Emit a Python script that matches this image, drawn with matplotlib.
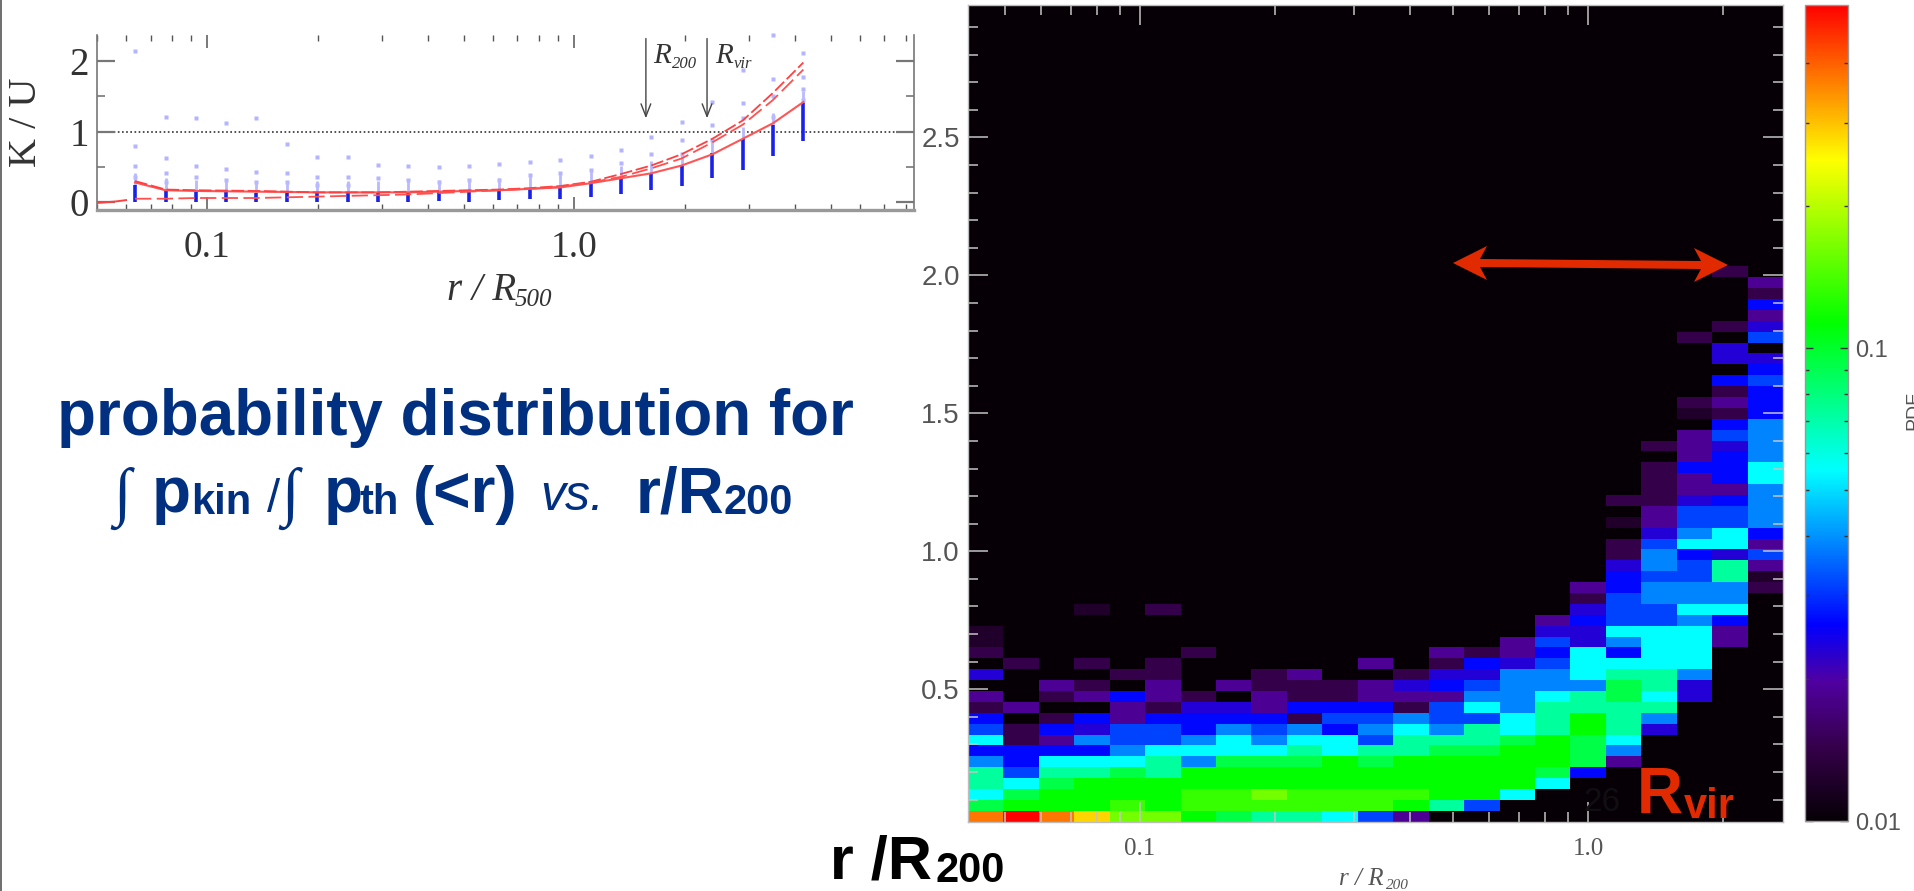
import numpy as np
import matplotlib
matplotlib.use("Agg")
import matplotlib.pyplot as plt
from matplotlib.colors import LinearSegmentedColormap, LogNorm
from matplotlib.patches import Polygon
from matplotlib.lines import Line2D
from matplotlib.ticker import NullFormatter

W, H = 1915, 891

# ---------- left panel data (K/U against r/R500) ----------
RADII = [.0635, .0769, .0931, .1125, .136, .165, .1995, .241, .292, .353, .427, .517,
         .625, .757, .916, 1.109, 1.34, 1.62, 1.96, 2.38, 2.88, 3.48, 4.21]
DENSE_LO = [0, 0, 0, 0, 0, 0, 0, 0, 0, 0, .02, .01, .03, .04, .04, .08, .12, .17, .23, .35, .46, .66, .87]
DENSE_HI = [.25, .18, .15, .15, .13, .13, .13, .13, .13, .13, .14, .16, .17, .2, .23, .27, .34, .42, .52, .7, .9, 1.1, 1.4]
OUTLIERS = [[2.15, .8, .52, .36], [1.21, .63, .41, .29], [1.19, .52, .36], [1.12, .47, .32],
            [1.2, .43, .29], [.83, .41, .29], [.64, .36, .25], [.64, .36, .25], [.53, .34],
            [.52, .32], [.5, .29], [.52, .32], [.54, .32], [.57, .39], [.6, .41], [.65, .46],
            [.74, .55], [.93, .69], [1.14, .88, .69], [1.42, 1.09, .88], [1.87, 1.4, 1.19],
            [2.37, 1.75, 1.5, 1.21], [2.11, 1.78, 1.61, 1.45]]
RED_SOLID = [.28, .17, .16, .155, .15, .145, .14, .14, .14, .14, .15, .16, .17, .19, .21, .27, .34, .41, .52, .68, .9, 1.12, 1.42]
RED_DASH_A = [.3, .18, .17, .165, .16, .15, .14, .14, .14, .15, .16, .17, .18, .2, .23, .29, .4, .52, .68, .9, 1.16, 1.55, 1.98]
RED_DASH_B = [.05, .05, .06, .06, .06, .07, .08, .09, .1, .11, .13, .15, .17, .19, .22, .28, .36, .48, .62, .85, 1.1, 1.45, 1.88]
LEAD_R = [.05, .056, .06]
LEAD_Y = [-.01, .01, .03]
ARROW_R = [1.567, 2.30]

# ---------- right panel data (PDF cells, row 0 at the bottom, right-aligned strings) ----------
LEVELS = {'0': .0100, 'g': .0122, '1': .0143, '2': .0189, '3': .023, '4': .0265, '5': .0317,
          '6': .0386, '7': .0553, '8': .073, '9': .0927, 'a': .113, 'b': .133, 'c': .162,
          'd': .282, 'e': .373, 'f': .533}
CELL_ROWS = [
    "efedcca9887520000000000",
    "9aaababbbbbba8500000000",
    "79aaaabbcbbbbaa70000000",
    "879aaaaaaaaaaaaa7000000",
    "858898aaaaaaaaaa9400000",
    "6477786999a9aaaaa920000",
    "444467777878899aa960000",
    "7126556767758889a970000",
    "51435546564676878a83000",
    "40142444415565578a86000",
    "12002133244415768888000",
    "20124210211222667897300",
    "00210202111234566698300",
    "30001100120013366788600",
    "01010100000201435777700",
    "10000010000002124747700",
    "g0000000000000025367720",
    "g000000000000000" "3377720",
    "2455640", "000g01" "00000000000" "355770", "156660", "246661",
    "4558g", "36582", "16435", "15772", "03674", "g2556", "02556", "11346",
    "01226", "01247", "01447", "00246", "1236", "256", "46", "g14", "124",
    "14", "45", "04", "33", "30", "105", "13", "02", "04", "01", "02", "10",
]
N_COLS, N_ROWS = 23, 75

CB_STOPS = [(0, '#060006'), (.09, '#35004a'), (.17, '#5000a0'), (.24, '#0000ff'), (.43, '#00ffff'),
            (.61, '#00ff00'), (.81, '#ffff00'), (1, '#ff0000')]
NAVY, RED = '#00307f', '#e22a00'
SANS, SERIF = 'Liberation Sans', 'Liberation Serif'


def rect(l, t, r, b):
    return [l / W, 1 - b / H, (r - l) / W, (b - t) / H]


def ftext(x, y, s, **kw):
    return fig.text(x / W, 1 - y / H, s, **kw)


fig = plt.figure(figsize=(W / 100, H / 100), dpi=100, facecolor='white')

# ---------- left panel ----------
ax = fig.add_axes(rect(97, 35, 914, 210))
ax.set_xscale('log')
ax.set_xlim(.05, 8.43)
ax.set_ylim(-.11, 2.37)
ax.axhline(1, color='#333333', ls=(0, (1, 1.5)), lw=1.2, zorder=1)
for r, ys in zip(RADII, OUTLIERS):
    ax.plot([r] * len(ys), ys, ls='none', marker='s', ms=2.4, mfc='#b4b4ff', mec='none', zorder=2, clip_on=False)
ax.vlines(RADII, DENSE_LO, DENSE_HI, color='#1a22e8', lw=2.6, zorder=3)
for r, lo, hi in zip(RADII, DENSE_HI, [h + .17 for h in DENSE_HI]):
    ax.vlines(r, lo, hi, color='#b9b9ff', lw=2.0, zorder=2)
ax.plot(RADII, RED_SOLID, color='#ff5555', lw=1.5, zorder=4)
ax.plot(RADII, RED_DASH_A, color='#ff4040', lw=1.3, ls=(0, (7, 2)), zorder=4)
ax.plot(RADII, RED_DASH_B, color='#ff5050', lw=1.3, ls=(0, (9, 3)), zorder=4)
ax.plot(LEAD_R, LEAD_Y, color='#ff4040', lw=1.4, zorder=4)
for r in ARROW_R:
    ax.annotate('', xy=(r, 1.19), xytext=(r, 2.32),
                arrowprops=dict(arrowstyle='->,head_length=0.9,head_width=0.35', color='#444444', lw=1.0,
                                shrinkA=0, shrinkB=0))
ax.set_xticks([.1, 1], labels=['0.1', '1.0'], family=SERIF, fontsize=27, color='#333333')
ax.set_xticks([m * d for d in (.01, .1, 1) for m in range(2, 10) if .05 <= m * d <= 8.43], minor=True)
ax.xaxis.set_minor_formatter(NullFormatter())
ax.set_yticks([0, 1, 2], labels=['0', '1', '2'], family=SERIF, fontsize=28, color='#333333')
ax.set_yticks([.5, 1.5], minor=True)
ax.tick_params(axis='x', which='major', direction='in', top=True, length=9.5, width=1.1, color='#555555', pad=15)
ax.tick_params(axis='x', which='minor', direction='in', top=True, length=4.5, width=1.0, color='#555555')
ax.tick_params(axis='y', which='major', direction='in', right=True, length=13, width=1.6, color='#777777', pad=6)
ax.tick_params(axis='y', which='minor', direction='in', right=True, length=6, width=1.2, color='#777777')
ax.spines['top'].set_visible(False)
ax.spines['bottom'].set(color='#999999', lw=2.4)
ax.spines['left'].set(color='#777777', lw=1.2)
ax.spines['right'].set(color='#777777', lw=1.2)
ftext(27, 122, 'K / U', family=SERIF, fontsize=29, rotation=90, ha='center', va='center', color='#333333')
ITAL = dict(family=SERIF, style='italic', color='#333333', va='baseline')
ftext(447, 300, 'r / R', fontsize=28, **ITAL)
ftext(515, 306, '500', fontsize=18, **ITAL)
ftext(653, 63, 'R', fontsize=21, **ITAL)
ftext(672, 68, '200', fontsize=12, **ITAL)
ftext(715, 63, 'R', fontsize=21, **ITAL)
ftext(734, 68, 'vir', fontsize=12, **ITAL)

# ---------- right panel ----------
cmap = LinearSegmentedColormap.from_list('pdf', CB_STOPS, N=512)
norm = LogNorm(.01, .533)
cells = np.full((N_ROWS, N_COLS), .01)
for i, row in enumerate(CELL_ROWS):
    cells[i] = [LEVELS[c] for c in row.rjust(N_COLS, '0')[:N_COLS]]
XLIM = (.0413, 2.72)
YLIM = (.02, 2.98)
hm = fig.add_axes(rect(968, 5, 1783, 821.7))
mesh = hm.pcolormesh(np.geomspace(*XLIM, N_COLS + 1), np.linspace(*YLIM, N_ROWS + 1), cells,
                     cmap=cmap, norm=norm, shading='flat')
hm.set_xscale('log')
hm.set_xlim(*XLIM)
hm.set_ylim(*YLIM)
hm.set_xticks([.1, 1], labels=['0.1', '1.0'], family=SERIF, fontsize=18, color='#555555')
hm.set_xticks([m * d for d in (.01, .1, 1) for m in range(2, 10) if XLIM[0] <= m * d <= XLIM[1]], minor=True)
hm.xaxis.set_minor_formatter(NullFormatter())
hm.set_yticks([.5, 1, 1.5, 2, 2.5], labels=['0.5', '1.0', '1.5', '2.0', '2.5'], family=SANS, fontsize=20, color='#555555')
hm.set_yticks(np.arange(.1, 2.95, .1), minor=True)
hm.yaxis.set_minor_formatter(NullFormatter())
for axis, kw in (('x', dict(top=True)), ('y', dict(right=True))):
    hm.tick_params(axis=axis, which='major', direction='in', length=14.4, width=1.1, color='#c4c4c4', **kw)
    hm.tick_params(axis=axis, which='minor', direction='in', length=7.2, width=1.1, color='#c4c4c4', **kw)
hm.tick_params(axis='x', which='major', pad=12)
hm.tick_params(axis='y', which='major', pad=6)
for s in hm.spines.values():
    s.set(color='#bdbdbd', lw=1.0)
ITAL2 = dict(family=SERIF, style='italic', color='#555555', va='baseline')
ftext(1339, 885, 'r / R', fontsize=18, **ITAL2)
ftext(1386, 889, '200', fontsize=11, **ITAL2)

# ---------- colour bar ----------
cax = fig.add_axes(rect(1805, 4.5, 1848, 821))
cb = fig.colorbar(mesh, cax=cax)
cb.set_ticks([.01, .1], labels=['0.01', '0.1'])
cb.ax.set_yticks([.02, .03, .04, .05, .06, .07, .08, .09, .2, .3, .4], minor=True)
cb.ax.yaxis.set_minor_formatter(NullFormatter())
cb.ax.tick_params(axis='y', which='major', direction='in', left=True, right=True, length=6, width=1.0,
                  color='#333333', labelsize=17, labelcolor='#555555', pad=5)
cb.ax.tick_params(axis='y', which='minor', direction='in', left=True, right=True, length=3, width=1.0, color='#333333')
for t in cb.ax.get_yticklabels():
    t.set_family(SANS)
cb.outline.set(edgecolor='#999999', lw=1.0)
ftext(1914, 410, 'PDF', family=SANS, fontsize=14, rotation=90, ha='center', va='center', color='#555555')

# ---------- slide overlay ----------
fig.add_artist(Line2D([.7 / W, .7 / W], [0, 1], color='#555555', lw=1.2))
ftext(57, 435, 'probability distribution for', family=SANS, weight='bold', fontsize=45.8, color=NAVY, va='baseline')
BASE = 512
ftext(113, BASE + 1, '\u222b', family=SERIF, fontsize=46, color=NAVY, va='baseline')
ftext(152, BASE, 'p', family=SANS, weight='bold', fontsize=46, color=NAVY, va='baseline')
ftext(191, BASE + 2, 'kin', family=SANS, weight='bold', fontsize=30, color=NAVY, va='baseline')
ftext(267, BASE, '/', family=SANS, fontsize=34, color=NAVY, va='baseline')
ftext(281, BASE + 1, '\u222b', family=SERIF, fontsize=46, color=NAVY, va='baseline')
ftext(324, BASE, 'p', family=SANS, weight='bold', fontsize=46, color=NAVY, va='baseline')
ftext(360, BASE + 2, 'th', family=SANS, weight='bold', fontsize=30, color=NAVY, va='baseline')
ftext(413, BASE, '(<r)', family=SANS, weight='bold', fontsize=46, color=NAVY, va='baseline')
ftext(540, BASE - 2, 'vs.', family=SANS, style='italic', fontsize=36, color=NAVY, va='baseline')
ftext(636, BASE, 'r/R', family=SANS, weight='bold', fontsize=46, color=NAVY, va='baseline')
ftext(724, BASE + 2, '200', family=SANS, weight='bold', fontsize=30, color=NAVY, va='baseline')

ftext(830, 878, 'r /R', family=SANS, weight='bold', fontsize=44, color='black', va='baseline')
ftext(936, 882, '200', family=SANS, weight='bold', fontsize=30, color='black', va='baseline')

ftext(1637, 813, 'R', family=SANS, weight='bold', fontsize=46, color=RED, va='baseline')
ftext(1684, 818, 'vir', family=SANS, weight='bold', fontsize=30, color=RED, va='baseline')
ftext(1583, 811, '26', family=SANS, fontsize=24, color='#100e10', va='baseline')

# double-headed annotation arrow, outlined in pixel positions of the slide
lx, ly, rx, ry = 1453, 263, 1728, 265
pts = [(lx, ly), (lx + 34, ly - 17), (lx + 27, ly - 4), (rx - 27, ry - 4), (rx - 34, ry - 17),
       (rx, ry), (rx - 34, ry + 17), (rx - 27, ry + 4), (lx + 27, ly + 4), (lx + 34, ly + 17)]
fig.add_artist(Polygon([(x / W, 1 - y / H) for x, y in pts], closed=True, transform=fig.transFigure,
                       fc=RED, ec='none', zorder=10))

fig.savefig('out.png', dpi=100)
